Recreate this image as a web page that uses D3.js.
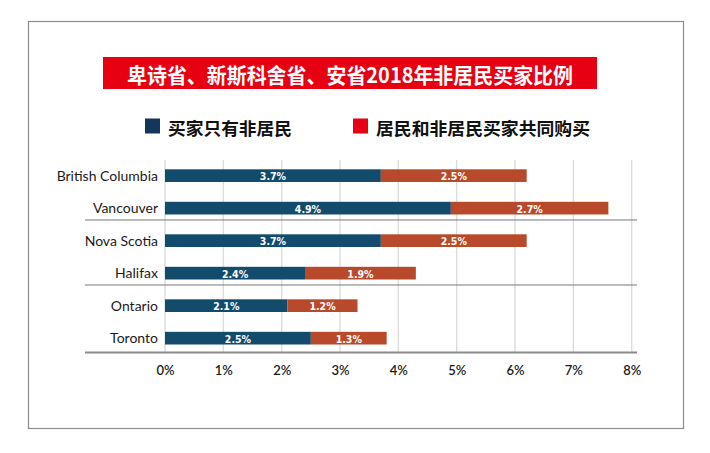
<!DOCTYPE html>
<html>
<head>
<meta charset="utf-8">
<script src="https://cdn.jsdelivr.net/npm/d3@7"></script>
<style>
  body { margin: 0; background: #fff; }
  svg { display: block; }
</style>
</head>
<body>
<svg id="chart" width="710" height="453"></svg>
<script>
// data
const regions     = ["British Columbia", "Vancouver", "Nova Scotia", "Halifax", "Ontario", "Toronto"];
const onlyForeign = [3.7, 4.9, 3.7, 2.4, 2.1, 2.5];
const jointBuy    = [2.5, 2.7, 2.5, 1.9, 1.2, 1.3];
const xTicks      = [0, 1, 2, 3, 4, 5, 6, 7, 8];
const groupEnds   = ["Vancouver", "Halifax"];
const seriesNames = ["买家只有非居民", "居民和非居民买家共同购买"];
const titleText   = "卑诗省、新斯科舍省、安省2018年非居民买家比例";

const svg = d3.select("#chart");
const navy = "#124b6c", rust = "#b9492b";
const latin = "Lato, 'Open Sans', sans-serif";
const cjk = "'Noto Sans CJK SC', sans-serif";

// outer frame
svg.append("rect")
  .attr("x", 28.5).attr("y", 21.5)
  .attr("width", 655).attr("height", 407)
  .attr("fill", "#fff").attr("stroke", "#8c8c8c").attr("stroke-width", 1.2);

// title box
svg.append("rect")
  .attr("x", 103).attr("y", 57)
  .attr("width", 494).attr("height", 32)
  .attr("fill", "#e60012");
svg.append("text")
  .attr("x", 350).attr("y", 74)
  .attr("text-anchor", "middle").attr("dominant-baseline", "central")
  .attr("textLength", 446).attr("lengthAdjust", "spacingAndGlyphs")
  .attr("fill", "#fff").attr("font-family", cjk).attr("font-weight", 700)
  .attr("font-size", 21)
  .text(titleText);

// legend
const legendX = [145, 353];
const legendW = [124, 214];
const legend = svg.append("g");
legend.selectAll("rect")
  .data(seriesNames)
  .enter().append("rect")
    .attr("x", (d, i) => legendX[i])
    .attr("y", 118.5)
    .attr("width", 15).attr("height", 15)
    .attr("fill", (d, i) => i === 0 ? "#13365a" : "#e60012");
legend.selectAll("text")
  .data(seriesNames)
  .enter().append("text")
    .attr("x", (d, i) => legendX[i] + 23)
    .attr("y", 127)
    .attr("dominant-baseline", "central")
    .attr("textLength", (d, i) => legendW[i]).attr("lengthAdjust", "spacingAndGlyphs")
    .attr("font-family", cjk).attr("font-weight", 700).attr("font-size", 17.5)
    .attr("fill", "#111")
    .text(d => d);

// scales
const x = d3.scaleLinear().domain([0, 8]).range([165, 631.7]);
const y = d3.scaleBand().domain(regions).range([169.3, 344.5])
  .paddingInner(0.61).paddingOuter(0);
const bw = y.bandwidth();

// gridlines
svg.append("g")
  .selectAll("line")
  .data(xTicks)
  .enter().append("line")
    .attr("x1", d => x(d)).attr("x2", d => x(d))
    .attr("y1", 160).attr("y2", 352)
    .attr("stroke", "#dcdcdc").attr("stroke-width", 1.4);

// group separators
svg.append("g")
  .selectAll("line")
  .data(groupEnds)
  .enter().append("line")
    .attr("x1", 85).attr("x2", 637)
    .attr("y1", d => y(d) + bw + 5.5).attr("y2", d => y(d) + bw + 5.5)
    .attr("stroke", "#777").attr("stroke-width", 1);

// bottom axis line
svg.append("line")
  .attr("x1", 85).attr("x2", 637)
  .attr("y1", y(regions[regions.length - 1]) + bw + 8)
  .attr("y2", y(regions[regions.length - 1]) + bw + 8)
  .attr("stroke", "#8a8a8a").attr("stroke-width", 2);

// bars
const rows = regions.map((r, i) => ({ region: r, a: onlyForeign[i], b: jointBuy[i] }));
const bars = svg.append("g");
bars.selectAll("rect.a")
  .data(rows)
  .enter().append("rect")
    .attr("class", "a")
    .attr("x", x(0)).attr("y", d => y(d.region))
    .attr("width", d => x(d.a) - x(0)).attr("height", bw)
    .attr("fill", navy);
bars.selectAll("rect.b")
  .data(rows)
  .enter().append("rect")
    .attr("class", "b")
    .attr("x", d => x(d.a)).attr("y", d => y(d.region))
    .attr("width", d => x(d.a + d.b) - x(d.a)).attr("height", bw)
    .attr("fill", rust);

// value labels
const valFont = "'DejaVu Sans', sans-serif";
bars.selectAll("text.a")
  .data(rows)
  .enter().append("text")
    .attr("x", d => x(d.a / 2)).attr("y", d => y(d.region) + bw / 2 + 0.5)
    .attr("text-anchor", "middle").attr("dominant-baseline", "central")
    .attr("fill", "#fff").attr("font-family", valFont).attr("font-weight", 700)
    .attr("font-stretch", "condensed").attr("font-size", 10.5)
    .text(d => d.a.toFixed(1) + "%");
bars.selectAll("text.b")
  .data(rows)
  .enter().append("text")
    .attr("x", d => x(d.a + d.b / 2)).attr("y", d => y(d.region) + bw / 2 + 0.5)
    .attr("text-anchor", "middle").attr("dominant-baseline", "central")
    .attr("fill", "#fff").attr("font-family", valFont).attr("font-weight", 700)
    .attr("font-stretch", "condensed").attr("font-size", 10.5)
    .text(d => d.b.toFixed(1) + "%");

// category axis (labels only)
const yAxis = svg.append("g")
  .attr("transform", "translate(158,0)")
  .call(d3.axisLeft(y).tickSize(0).tickPadding(0));
yAxis.select(".domain").remove();
yAxis.selectAll("text")
  .attr("font-family", latin).attr("font-size", 14).attr("fill", "#1a1a1a")
  .attr("dy", "0.35em");

// x axis (labels only)
const xAxis = svg.append("g")
  .attr("transform", "translate(0,366)")
  .call(d3.axisBottom(x).tickValues(xTicks).tickSize(0).tickPadding(0)
    .tickFormat(d => d + "%"));
xAxis.select(".domain").remove();
xAxis.selectAll("text")
  .attr("font-family", latin).attr("font-size", 13).attr("fill", "#1a1a1a")
  .attr("font-weight", 600);
</script>
</body>
</html>
